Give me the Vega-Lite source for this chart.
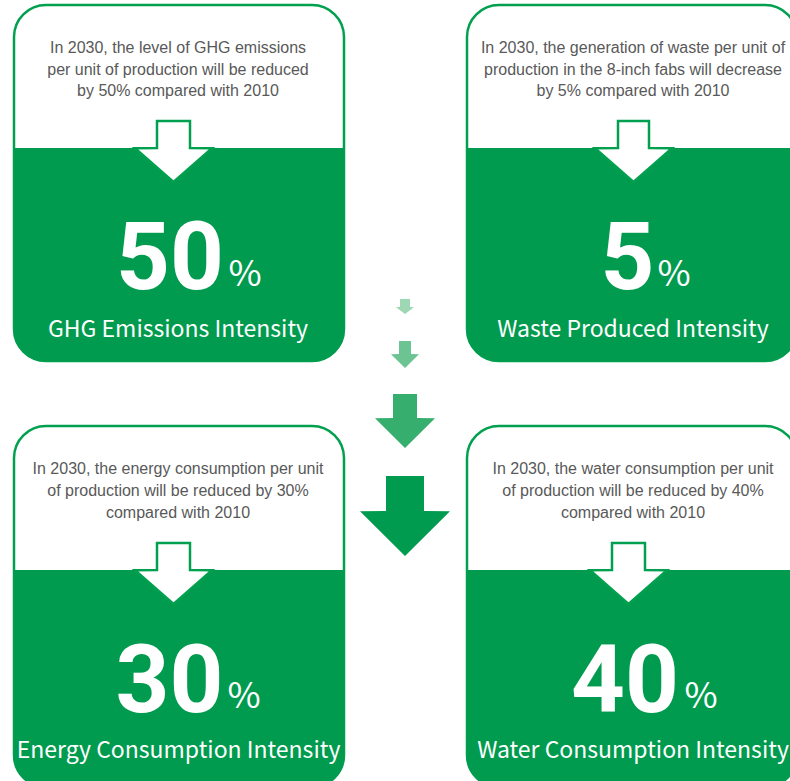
{
  "$schema": "https://vega.github.io/schema/vega-lite/v6.json",
  "width": 790,
  "height": 781,
  "autosize": {"type": "fit", "contains": "padding"},
  "padding": 0,
  "background": "white",
  "config": {"view": {"stroke": null}},
  "datasets": {
    "cards": [
      {"card": "GHG", "left": 14, "right": 344, "top": 5, "mid": 148, "bottom": 361},
      {"card": "Waste", "left": 467, "right": 797, "top": 5, "mid": 148, "bottom": 361},
      {"card": "Energy", "left": 14, "right": 344, "top": 426, "mid": 570, "bottom": 787},
      {"card": "Water", "left": 467, "right": 797, "top": 426, "mid": 570, "bottom": 787}
    ],
    "cardArrows": [
      {"arrow": "GHG", "y": 121, "xl": 157, "xr": 190},
      {"arrow": "GHG", "y": 148, "xl": 157, "xr": 190},
      {"arrow": "GHG", "y": 148.2, "xl": 135, "xr": 212},
      {"arrow": "GHG", "y": 182, "xl": 173.5, "xr": 173.5},
      {"arrow": "Waste", "y": 121, "xl": 618, "xr": 649},
      {"arrow": "Waste", "y": 148, "xl": 618, "xr": 649},
      {"arrow": "Waste", "y": 148.2, "xl": 595, "xr": 672},
      {"arrow": "Waste", "y": 182, "xl": 633.5, "xr": 633.5},
      {"arrow": "Energy", "y": 543, "xl": 157, "xr": 190},
      {"arrow": "Energy", "y": 570, "xl": 157, "xr": 190},
      {"arrow": "Energy", "y": 570.2, "xl": 135, "xr": 212},
      {"arrow": "Energy", "y": 604, "xl": 173.5, "xr": 173.5},
      {"arrow": "Water", "y": 543, "xl": 612, "xr": 645},
      {"arrow": "Water", "y": 570, "xl": 612, "xr": 645},
      {"arrow": "Water", "y": 570.2, "xl": 590, "xr": 667},
      {"arrow": "Water", "y": 604, "xl": 628.5, "xr": 628.5}
    ],
    "midArrows": [
      {"arrow": "m1", "y": 299, "xl": 400, "xr": 410},
      {"arrow": "m1", "y": 307, "xl": 400, "xr": 410},
      {"arrow": "m1", "y": 307.2, "xl": 396, "xr": 414},
      {"arrow": "m1", "y": 314, "xl": 405, "xr": 405},
      {"arrow": "m2", "y": 341, "xl": 399, "xr": 411},
      {"arrow": "m2", "y": 354, "xl": 399, "xr": 411},
      {"arrow": "m2", "y": 354.2, "xl": 391, "xr": 419},
      {"arrow": "m2", "y": 368, "xl": 405, "xr": 405},
      {"arrow": "m3", "y": 394, "xl": 393, "xr": 417},
      {"arrow": "m3", "y": 418, "xl": 393, "xr": 417},
      {"arrow": "m3", "y": 418.2, "xl": 375, "xr": 435},
      {"arrow": "m3", "y": 448, "xl": 405, "xr": 405},
      {"arrow": "m4", "y": 476, "xl": 386, "xr": 424},
      {"arrow": "m4", "y": 511, "xl": 386, "xr": 424},
      {"arrow": "m4", "y": 511.2, "xl": 360, "xr": 450},
      {"arrow": "m4", "y": 556, "xl": 405, "xr": 405}
    ],
    "desc": [
      {"x": 178, "y": 53, "text": "In 2030, the level of GHG emissions"},
      {"x": 178, "y": 75, "text": "per unit of production will be reduced"},
      {"x": 178, "y": 96, "text": "by 50% compared with 2010"},
      {"x": 633, "y": 53, "text": "In 2030, the generation of waste per unit of"},
      {"x": 633, "y": 75, "text": "production in the 8-inch fabs will decrease"},
      {"x": 633, "y": 96, "text": "by 5% compared with 2010"},
      {"x": 178, "y": 474, "text": "In 2030, the energy consumption per unit"},
      {"x": 178, "y": 496, "text": "of production will be reduced by 30%"},
      {"x": 178, "y": 518, "text": "compared with 2010"},
      {"x": 633, "y": 474, "text": "In 2030, the water consumption per unit"},
      {"x": 633, "y": 496, "text": "of production will be reduced by 40%"},
      {"x": 633, "y": 518, "text": "compared with 2010"}
    ],
    "numbers": [
      {"x": 170, "y": 289, "text": "50", "px": 245, "py": 286},
      {"x": 627.5, "y": 289, "text": "5", "px": 674, "py": 286},
      {"x": 169.5, "y": 712, "text": "30", "px": 244, "py": 708},
      {"x": 625, "y": 712, "text": "40", "px": 701, "py": 708}
    ],
    "titles": [
      {"x": 178, "y": 337, "text": "GHG Emissions Intensity"},
      {"x": 633, "y": 337, "text": "Waste Produced Intensity"},
      {"x": 178.5, "y": 758, "text": "Energy Consumption Intensity"},
      {"x": 633, "y": 758, "text": "Water Consumption Intensity"}
    ]
  },
  "layer": [
    {
      "data": {"name": "cards"},
      "mark": {"type": "rect", "fill": "white", "stroke": "#00a04f", "strokeWidth": 2.5, "cornerRadius": 32, "clip": true},
      "encoding": {
        "x": {"field": "left", "type": "quantitative", "scale": {"domain": [0, 790], "nice": false, "zero": false}, "axis": null},
        "x2": {"field": "right"},
        "y": {"field": "top", "type": "quantitative", "scale": {"domain": [0, 781], "nice": false, "zero": false, "reverse": true}, "axis": null},
        "y2": {"field": "bottom"}
      }
    },
    {
      "data": {"name": "cards"},
      "mark": {"type": "rect", "fill": "#009b4e", "cornerRadiusBottomLeft": 30, "cornerRadiusBottomRight": 30, "clip": true},
      "encoding": {
        "x": {"field": "left", "type": "quantitative"},
        "x2": {"field": "right"},
        "y": {"field": "mid", "type": "quantitative"},
        "y2": {"field": "bottom"}
      }
    },
    {
      "data": {"name": "cardArrows"},
      "mark": {"type": "area", "orient": "horizontal", "fill": "white", "stroke": "#00a04f", "strokeWidth": 2.5, "strokeJoin": "miter", "clip": true},
      "encoding": {
        "y": {"field": "y", "type": "quantitative"},
        "x": {"field": "xl", "type": "quantitative"},
        "x2": {"field": "xr"},
        "detail": {"field": "arrow"}
      }
    },
    {
      "data": {"name": "midArrows"},
      "mark": {"type": "area", "orient": "horizontal", "opacity": 1, "clip": true},
      "encoding": {
        "y": {"field": "y", "type": "quantitative"},
        "x": {"field": "xl", "type": "quantitative"},
        "x2": {"field": "xr"},
        "color": {"field": "arrow", "type": "nominal", "scale": {"domain": ["m1", "m2", "m3", "m4"], "range": ["#9dd7b3", "#6cc492", "#36ae6d", "#009b4e"]}, "legend": null}
      }
    },
    {
      "data": {"name": "desc"},
      "mark": {"type": "text", "font": "Liberation Sans", "fontSize": 16, "color": "#595959", "align": "center", "baseline": "alphabetic"},
      "encoding": {
        "x": {"field": "x", "type": "quantitative"},
        "y": {"field": "y", "type": "quantitative"},
        "text": {"field": "text"}
      }
    },
    {
      "data": {"name": "numbers"},
      "mark": {"type": "text", "font": "Roboto", "fontWeight": "bold", "fontSize": 94, "color": "white", "align": "center", "baseline": "alphabetic"},
      "encoding": {
        "x": {"field": "x", "type": "quantitative"},
        "y": {"field": "y", "type": "quantitative"},
        "text": {"field": "text"}
      }
    },
    {
      "data": {"name": "numbers"},
      "mark": {"type": "text", "font": "Noto Sans CJK SC", "fontSize": 36, "color": "white", "align": "center", "baseline": "alphabetic", "text": "%"},
      "encoding": {
        "x": {"field": "px", "type": "quantitative"},
        "y": {"field": "py", "type": "quantitative"}
      }
    },
    {
      "data": {"name": "titles"},
      "mark": {"type": "text", "font": "Noto Sans CJK SC", "fontSize": 23, "color": "white", "align": "center", "baseline": "alphabetic"},
      "encoding": {
        "x": {"field": "x", "type": "quantitative"},
        "y": {"field": "y", "type": "quantitative"},
        "text": {"field": "text"}
      }
    }
  ]
}
